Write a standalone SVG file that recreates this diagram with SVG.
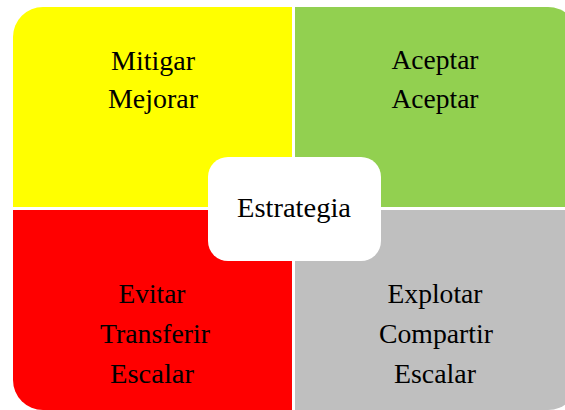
<svg xmlns="http://www.w3.org/2000/svg" width="565" height="410" viewBox="0 0 565 410">
<style>
text{font-family:"Liberation Serif","Times New Roman",serif;font-size:27px;fill:#000;text-anchor:middle}
</style>
<rect width="565" height="410" fill="#fff"/>
<g id="q-mitigar">
<path d="M13,37 A30,30 0 0 1 43,7 L292,7 L292,207 L13,207 Z" fill="#FFFF00"/>
<text x="153" y="70" textLength="84" lengthAdjust="spacingAndGlyphs">Mitigar</text>
<text x="153" y="108" textLength="90" lengthAdjust="spacingAndGlyphs">Mejorar</text>
</g>
<g id="q-aceptar">
<path d="M295,7 L548,7 A30,30 0 0 1 578,37 L578,207 L295,207 Z" fill="#92D050"/>
<text x="435" y="69" textLength="87" lengthAdjust="spacingAndGlyphs">Aceptar</text>
<text x="435" y="108" textLength="87" lengthAdjust="spacingAndGlyphs">Aceptar</text>
</g>
<g id="q-evitar">
<path d="M13,210 L292,210 L292,410 L43,410 A30,30 0 0 1 13,380 Z" fill="#FF0000"/>
<text x="152" y="303" textLength="67" lengthAdjust="spacingAndGlyphs">Evitar</text>
<text x="155" y="343" textLength="110" lengthAdjust="spacingAndGlyphs">Transferir</text>
<text x="152" y="383" textLength="84" lengthAdjust="spacingAndGlyphs">Escalar</text>
</g>
<g id="q-explotar">
<path d="M295,210 L578,210 L578,380 A30,30 0 0 1 548,410 L295,410 Z" fill="#BFBFBF"/>
<text x="435" y="303" textLength="95" lengthAdjust="spacingAndGlyphs">Explotar</text>
<text x="436" y="343" textLength="114" lengthAdjust="spacingAndGlyphs">Compartir</text>
<text x="435" y="383" textLength="82" lengthAdjust="spacingAndGlyphs">Escalar</text>
</g>
<g id="center">
<rect x="208" y="157" width="173" height="104" rx="20" fill="#fff"/>
<text x="294" y="217" textLength="114" lengthAdjust="spacingAndGlyphs">Estrategia</text>
</g>
<g id="connectors"/>
</svg>
